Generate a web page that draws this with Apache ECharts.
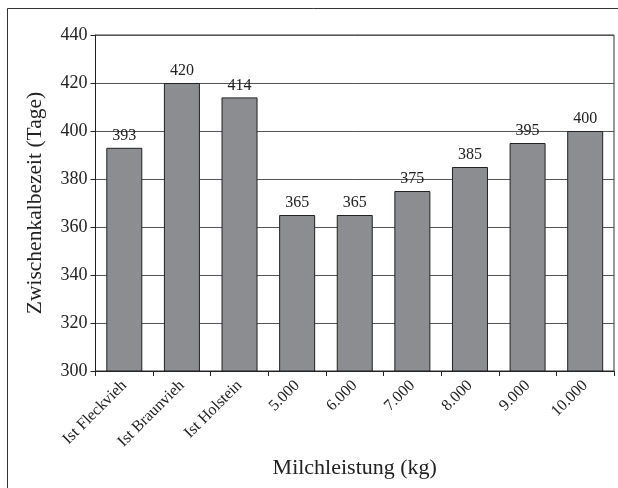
<!DOCTYPE html>
<html>
<head>
<meta charset="utf-8">
<script src="https://cdn.jsdelivr.net/npm/echarts@6/dist/echarts.min.js"></script>
<style>
  html, body { margin: 0; padding: 0; background: #fff; }
  #chart { width: 618px; height: 488px; }
</style>
</head>
<body>
<div id="chart"></div>
<script>
// Zwischenkalbezeit nach Rasse bzw. Milchleistung
const categories = ['Ist Fleckvieh', 'Ist Braunvieh', 'Ist Holstein', '5.000', '6.000', '7.000', '8.000', '9.000', '10.000'];
const calvingInterval = [393, 420, 414, 365, 365, 375, 385, 395, 400];
const yTicks = { min: 300, max: 440, interval: 20 };

const FONT = '"Liberation Serif", "Times New Roman", serif';
const TEXT = '#222';

const chart = echarts.init(document.getElementById('chart'), null, { renderer: 'canvas' });
chart.setOption({
  backgroundColor: '#fff',
  animation: false,
  graphic: [{
    type: 'rect',
    shape: { x: 7.5, y: 8.5, width: 700, height: 600 },
    style: { fill: 'none', stroke: '#333', lineWidth: 1 },
    silent: true
  }],
  grid: {
    left: 95.5, right: 4, top: 35, bottom: 117,
    show: true, borderColor: '#333', borderWidth: 1, backgroundColor: 'transparent'
  },
  xAxis: {
    type: 'category',
    data: categories,
    name: 'Milchleistung (kg)',
    nameLocation: 'middle',
    nameGap: 84,
    nameTextStyle: { fontFamily: FONT, fontSize: 22, color: TEXT },
    axisLine: { lineStyle: { color: '#222', width: 1 } },
    axisTick: { show: true, length: 5, lineStyle: { color: '#222' } },
    axisLabel: { rotate: 45, fontFamily: FONT, fontSize: 16, color: TEXT, margin: 12 },
    splitLine: { show: false }
  },
  yAxis: {
    type: 'value',
    min: yTicks.min, max: yTicks.max, interval: yTicks.interval,
    name: 'Zwischenkalbezeit (Tage)',
    nameLocation: 'middle',
    nameGap: 49,
    nameTextStyle: { fontFamily: FONT, fontSize: 21.5, color: TEXT },
    axisLine: { show: true, lineStyle: { color: '#222', width: 1 } },
    axisTick: { show: true, length: 5, lineStyle: { color: '#222' } },
    axisLabel: { fontFamily: FONT, fontSize: 18, color: TEXT, margin: 8 },
    splitLine: { show: true, lineStyle: { color: '#555', width: 1 } }
  },
  series: [{
    type: 'bar',
    data: calvingInterval,
    barWidth: '62.5%',
    itemStyle: { color: '#8b8d90', borderColor: '#222', borderWidth: 1 },
    label: {
      show: true, position: 'top', distance: 4,
      fontFamily: FONT, fontSize: 16, color: TEXT
    }
  }]
});
</script>
</body>
</html>
